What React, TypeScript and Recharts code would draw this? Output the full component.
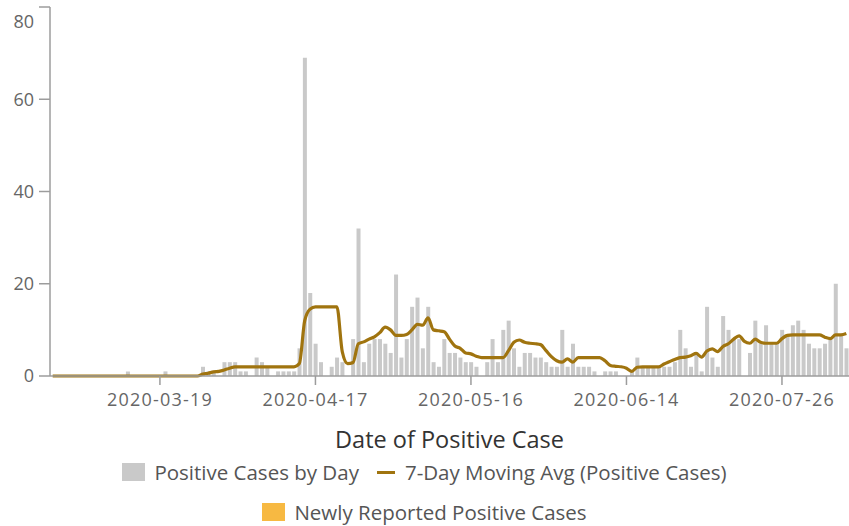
import React from "react";
import { ComposedChart, Bar, Line, XAxis, YAxis } from "recharts";

const BAR_GRAY = "#c9c9c9";
const AVG_LINE = "#a0740f";
const NEW_ORANGE = "#f7b942";
const AXIS = "#9c9c9c";
const TICK_TEXT = "#666";

// one entry per bar (dates 06-15..06-27 are absent in the source axis)
const DATES = [
  "2020-02-28", "2020-02-29",
  "2020-03-01", "2020-03-02", "2020-03-03", "2020-03-04", "2020-03-05", "2020-03-06", "2020-03-07", "2020-03-08",
  "2020-03-09", "2020-03-10", "2020-03-11", "2020-03-12", "2020-03-13", "2020-03-14", "2020-03-15", "2020-03-16",
  "2020-03-17", "2020-03-18", "2020-03-19", "2020-03-20", "2020-03-21", "2020-03-22", "2020-03-23", "2020-03-24",
  "2020-03-25", "2020-03-26", "2020-03-27", "2020-03-28", "2020-03-29", "2020-03-30", "2020-03-31",
  "2020-04-01", "2020-04-02", "2020-04-03", "2020-04-04", "2020-04-05", "2020-04-06", "2020-04-07", "2020-04-08",
  "2020-04-09", "2020-04-10", "2020-04-11", "2020-04-12", "2020-04-13", "2020-04-14", "2020-04-15", "2020-04-16",
  "2020-04-17", "2020-04-18", "2020-04-19", "2020-04-20", "2020-04-21", "2020-04-22", "2020-04-23", "2020-04-24",
  "2020-04-25", "2020-04-26", "2020-04-27", "2020-04-28", "2020-04-29", "2020-04-30",
  "2020-05-01", "2020-05-02", "2020-05-03", "2020-05-04", "2020-05-05", "2020-05-06", "2020-05-07", "2020-05-08",
  "2020-05-09", "2020-05-10", "2020-05-11", "2020-05-12", "2020-05-13", "2020-05-14", "2020-05-15", "2020-05-16",
  "2020-05-17", "2020-05-18", "2020-05-19", "2020-05-20", "2020-05-21", "2020-05-22", "2020-05-23", "2020-05-24",
  "2020-05-25", "2020-05-26", "2020-05-27", "2020-05-28", "2020-05-29", "2020-05-30", "2020-05-31",
  "2020-06-01", "2020-06-02", "2020-06-03", "2020-06-04", "2020-06-05", "2020-06-06", "2020-06-07", "2020-06-08",
  "2020-06-09", "2020-06-10", "2020-06-11", "2020-06-12", "2020-06-13", "2020-06-14",
  "2020-06-28", "2020-06-29", "2020-06-30",
  "2020-07-01", "2020-07-02", "2020-07-03", "2020-07-04", "2020-07-05", "2020-07-06", "2020-07-07", "2020-07-08",
  "2020-07-09", "2020-07-10", "2020-07-11", "2020-07-12", "2020-07-13", "2020-07-14", "2020-07-15", "2020-07-16",
  "2020-07-17", "2020-07-18", "2020-07-19", "2020-07-20", "2020-07-21", "2020-07-22", "2020-07-23", "2020-07-24",
  "2020-07-25", "2020-07-26", "2020-07-27", "2020-07-28", "2020-07-29", "2020-07-30", "2020-07-31",
  "2020-08-01", "2020-08-02", "2020-08-03", "2020-08-04", "2020-08-05", "2020-08-06", "2020-08-07",
];

const CASES = [
  0, 0, 0, 0, 0, 0, 0, 0, 0, 0, 0, 0, 0, 0, 1, 0, 0, 0, 0, 0,
  0, 1, 0, 0, 0, 0, 0, 0, 2, 1, 1, 0, 3, 3, 3, 1, 1, 0, 4, 3,
  2, 0, 1, 1, 1, 1, 6, 69, 18, 7, 3, 0, 2, 4, 3, 0, 8, 32, 3, 7,
  8, 8, 7, 5, 22, 4, 8, 15, 17, 6, 15, 3, 2, 8, 5, 5, 4, 3, 3, 2,
  0, 3, 8, 3, 10, 12, 6, 2, 5, 5, 4, 4, 3, 2, 2, 10, 2, 7, 2, 2,
  2, 1, 0, 1, 1, 1, 0, 0, 1, 4, 2, 2, 2, 2, 2, 2, 3, 10, 6, 2,
  5, 1, 15, 4, 2, 13, 10, 8, 8, 0, 5, 12, 7, 11, 7, 7, 10, 9, 11, 12,
  10, 7, 6, 6, 7, 8, 20, 9, 6,
];

const AVG_7DAY = [
  0, 0, 0, 0, 0, 0, 0, 0, 0, 0, 0, 0, 0, 0, 0, 0, 0, 0, 0, 0,
  0, 0, 0, 0, 0, 0, 0, 0, 0.4, 0.6, 0.9, 1, 1.3, 1.7, 2, 2, 2, 2, 2, 2,
  2, 2, 2, 2, 2, 2, 2.7, 12, 14.5, 15, 15, 15, 15, 15, 5.3, 2.7, 2.9, 7, 7.4, 8,
  8.5, 9.4, 10.6, 10, 8.8, 8.8, 9, 10, 11.2, 11, 12.6, 10, 9.8, 9.6, 8, 6.5, 6, 5, 4.8, 4.3,
  4, 4, 4, 4, 4, 5.5, 7.3, 7.8, 7.3, 7.1, 7, 6.8, 5.5, 4.2, 3.3, 3, 3.7, 3, 4, 4,
  4, 4, 4, 3.3, 2.3, 2.1, 2, 1.7, 1, 1.9, 2, 2, 2, 2, 2.6, 3.1, 3.6, 4, 4.1, 4.4,
  4.9, 4.1, 5.4, 5.9, 5.3, 6.4, 7, 8, 8.7, 7.5, 7.1, 8, 7.3, 7.1, 7.1, 7.1, 8.1, 8.8, 8.9, 8.9,
  8.9, 8.9, 8.9, 8.9, 8.4, 8.1, 8.9, 8.9, 9.2,
];

const X_TICKS = ["2020-03-19", "2020-04-17", "2020-05-16", "2020-06-14", "2020-07-26"];
const Y_TICKS = [0, 20, 40, 60, 80];

const rows = DATES.map((date, i) => ({ date, cases: CASES[i], avg: AVG_7DAY[i] }));

const FONT = "'Open Sans', sans-serif";

const XTick = (props: any) => {
  const { x, y, payload } = props;
  if (!X_TICKS.includes(payload.value)) return null;
  return (
    <g>
      <line x1={x} x2={x} y1={y} y2={y + 9} stroke={AXIS} strokeWidth={1.5} />
      <text x={x} y={y + 30} textAnchor="middle" fill={TICK_TEXT} fontSize={18} letterSpacing={1.2} fontFamily={FONT}>
        {payload.value}
      </text>
    </g>
  );
};

const YTick = (props: any) => {
  const { x, y, payload } = props;
  // top label sits a bit lower so it is not cut off
  const ty = payload.value === 80 ? y + 13 : y;
  return (
    <text x={x} y={ty} dy="0.35em" textAnchor="end" fill={TICK_TEXT} fontSize={18} fontFamily={FONT}>
      {payload.value}
    </text>
  );
};

const legendText: React.CSSProperties = { fontSize: 20.5, lineHeight: "24px", color: "#555", whiteSpace: "nowrap" };
const legendRow: React.CSSProperties = {
  position: "absolute",
  left: 0,
  width: 849,
  height: 24,
  display: "flex",
  justifyContent: "center",
  alignItems: "center",
};

export default function App() {
  return (
    <div
      style={{
        position: "absolute",
        left: 0,
        top: 0,
        width: 849,
        height: 526,
        background: "#fff",
        fontFamily: FONT,
        overflow: "hidden",
      }}
    >
      <ComposedChart
        width={849}
        height={460}
        data={rows}
        margin={{ top: 7, right: 0, bottom: 0, left: 0 }}
        barCategoryGap="16%"
      >
        <XAxis
          dataKey="date"
          interval={0}
          tickSize={0}
          tickMargin={0}
          tickLine={false}
          axisLine={{ stroke: AXIS, strokeWidth: 1.5 }}
          height={84}
          tick={<XTick />}
          label={{
            value: "Date of Positive Case",
            position: "insideBottom",
            offset: 12,
            fill: "#333",
            fontSize: 23.5,
            fontFamily: FONT,
          }}
        />
        <YAxis
          width={50}
          domain={[0, 80]}
          ticks={Y_TICKS}
          tickSize={11}
          tickMargin={5}
          axisLine={{ stroke: AXIS, strokeWidth: 1.5 }}
          tickLine={{ stroke: AXIS, strokeWidth: 1.5 }}
          tick={<YTick />}
        />
        <Bar dataKey="cases" name="Positive Cases by Day" fill={BAR_GRAY} isAnimationActive={false} />
        <Line
          type="monotone"
          dataKey="avg"
          name="7-Day Moving Avg (Positive Cases)"
          stroke={AVG_LINE}
          strokeWidth={3.2}
          dot={false}
          activeDot={false}
          isAnimationActive={false}
        />
      </ComposedChart>

      <div style={{ ...legendRow, top: 460 }}>
        <span style={{ width: 23, height: 18, background: BAR_GRAY, marginRight: 9 }} />
        <span style={legendText}>Positive Cases by Day</span>
        <span style={{ width: 18, height: 3, background: AVG_LINE, marginLeft: 18, marginRight: 10 }} />
        <span style={legendText}>7-Day Moving Avg (Positive Cases)</span>
      </div>
      <div style={{ ...legendRow, top: 500 }}>
        <span style={{ width: 23, height: 18, background: NEW_ORANGE, marginRight: 9 }} />
        <span style={legendText}>Newly Reported Positive Cases</span>
      </div>
    </div>
  );
}
